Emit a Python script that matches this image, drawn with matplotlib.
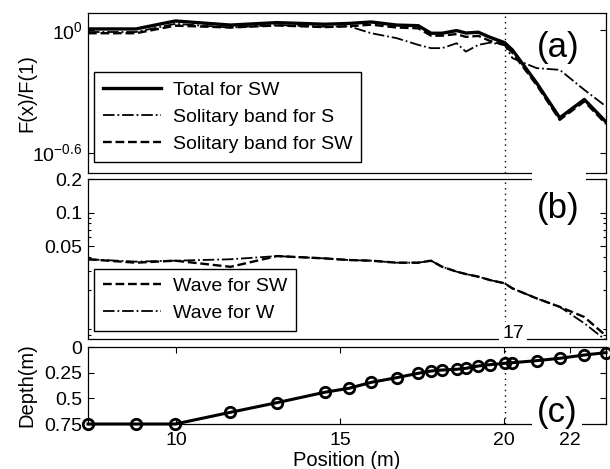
import numpy as np
import matplotlib
matplotlib.use("Agg")
import matplotlib.pyplot as plt
from matplotlib.ticker import NullFormatter, NullLocator, LogLocator

plt.rcParams["font.family"] = ["Liberation Sans", "DejaVu Sans"]
plt.rcParams["mathtext.default"] = "regular"

# gauge positions (m) and still-water depth (m)
position = [7.32, 8.78, 9.98, 11.66, 13.08, 14.53, 15.27, 15.95, 16.72, 17.38, 17.77,
            18.11, 18.55, 18.83, 19.21, 19.57, 20.01, 20.25, 20.99, 21.69, 22.44, 23.10]
depth = [0.75, 0.75, 0.75, 0.636, 0.542, 0.441, 0.402, 0.344, 0.299, 0.256, 0.234,
         0.224, 0.217, 0.208, 0.185, 0.172, 0.159, 0.153, 0.133, 0.110, 0.078, 0.055]

# panel (a): log10 of F(x)/F(1)
log_total_sw = [0.005, 0.005, 0.044, 0.024, 0.036, 0.028, 0.032, 0.039, 0.024, 0.021,
                -0.016, -0.016, -0.003, -0.015, -0.011, -0.036, -0.062, -0.098,
                -0.26, -0.43, -0.34, -0.45]
log_sol_s = [-0.010, -0.010, 0.030, 0.012, 0.024, 0.016, 0.018, -0.016, -0.040, -0.073,
             -0.089, -0.089, -0.065, -0.106, -0.073, -0.062, -0.073, -0.138,
             -0.187, -0.195, -0.293, -0.374]
log_sol_sw = [-0.016, -0.016, 0.021, 0.012, 0.022, 0.014, 0.018, 0.026, 0.012, 0.008,
              -0.028, -0.028, -0.020, -0.034, -0.029, -0.054, -0.073, -0.112,
              -0.27, -0.44, -0.35, -0.46]
total_sw = 10 ** np.array(log_total_sw)
sol_s = 10 ** np.array(log_sol_s)
sol_sw = 10 ** np.array(log_sol_sw)

# panel (b)
wave_sw = [0.0380, 0.0354, 0.0369, 0.0325, 0.0406, 0.0387, 0.0374, 0.0369, 0.0354,
           0.0354, 0.0369, 0.0325, 0.0294, 0.0280, 0.0265, 0.0247, 0.0231, 0.0208,
           0.0169, 0.0142, 0.0115, 0.0078]
wave_w = [0.0380, 0.0362, 0.0369, 0.0380, 0.0406, 0.0387, 0.0374, 0.0369, 0.0354,
          0.0354, 0.0369, 0.0325, 0.0294, 0.0280, 0.0265, 0.0247, 0.0231, 0.0208,
          0.0169, 0.0142, 0.0101, 0.0071]

x_gauge = 20.03
W, H = 610, 469


def box(l, t, r, b):
    return [l / W, 1 - b / H, (r - l) / W, (b - t) / H]


fig = plt.figure(figsize=(6.1, 4.69), dpi=100)
ax1 = fig.add_axes(box(88, 13, 606, 173))
ax2 = fig.add_axes(box(88, 179, 606, 339))
ax3 = fig.add_axes(box(88, 347, 606, 424))

xlim = (position[0], position[-1])
leg_kw = dict(loc="lower left", fontsize=14, fancybox=False, edgecolor="k",
              framealpha=1, handlelength=3.0, borderpad=0.45, labelspacing=0.5,
              handletextpad=0.6, borderaxespad=0)

# (a)
ax1.plot(position, total_sw, "k-", lw=2.4, label="Total for SW")
ax1.plot(position, sol_s, "k-.", lw=1.3, label="Solitary band for S")
ax1.plot(position, sol_sw, "k--", lw=1.7, label="Solitary band for SW")
ax1.set_yscale("log")
ax1.set_ylim(10 ** -0.7, 10 ** 0.083)
ax1.set_yticks([10 ** -0.6, 1.0])
ax1.set_yticklabels(["$10^{-0.6}$", "$10^{0}$"])
ax1.yaxis.set_minor_locator(NullLocator())
ax1.set_ylabel("F(x)/F(1)", fontsize=14.5)
ax1.legend(bbox_to_anchor=(6 / 518, 11 / 160), **leg_kw)

# (b)
ax2.plot(position, wave_sw, "k--", lw=1.7, label="Wave for SW")
ax2.plot(position, wave_w, "k-.", lw=1.3, label="Wave for W")
ax2.set_yscale("log")
ax2.set_ylim(0.0073, 0.2)
ax2.set_yticks([0.05, 0.1, 0.2])
ax2.set_yticklabels(["0.05", "0.1", "0.2"])
ax2.yaxis.set_minor_locator(LogLocator(subs=np.arange(2, 10)))
ax2.yaxis.set_minor_formatter(NullFormatter())
ax2.legend(bbox_to_anchor=(6 / 518, 8 / 160), **leg_kw)

# (c)
ax3.plot(position, depth, "k-", lw=2.2, marker="o", ms=7.5, mfc="none", mew=2,
         clip_on=False, zorder=5)
ax3.set_ylim(0.75, 0)
ax3.set_yticks([0, 0.25, 0.5, 0.75])
ax3.set_yticklabels(["0", "0.25", "0.5", "0.75"])
ax3.set_xticks([10, 15, 20, 22])
ax3.set_ylabel("Depth(m)", fontsize=14.5)
ax3.set_xlabel("Position (m)", fontsize=14.5, labelpad=1)

for ax in (ax1, ax2, ax3):
    ax.set_xlim(*xlim)
    ax.axvline(x_gauge, color="k", ls=(0, (1, 3)), lw=1, zorder=1)
    ax.tick_params(which="both", direction="in", top=True, right=True,
                   labelsize=14, length=4, width=0.8, pad=4)
    ax.tick_params(which="minor", length=2.5)
    for s in ax.spines.values():
        s.set_linewidth(0.9)
for ax in (ax1, ax2):
    ax.set_xticks([])
ax3.tick_params(axis="x", pad=6)
ax1.yaxis.set_label_coords(-0.10, 0.5)
ax3.yaxis.set_label_coords(-0.10, 0.5)

# panel labels with white backgrounds
fig.text(558 / W, 1 - 47 / H, "(a)", fontsize=25, ha="center", va="center")
fig.patches.append(plt.Rectangle((532 / W, 1 - 200 / H), 54 / W, 30 / H,
                                 transform=fig.transFigure, fc="white",
                                 ec="none", zorder=2))
fig.text(558 / W, 1 - 208 / H, "(b)", fontsize=25, ha="center", va="center",
         zorder=3)
fig.patches.append(plt.Rectangle((532 / W, 1 - 432 / H), 50 / W, 40 / H,
                                 transform=fig.transFigure, fc="white",
                                 ec="none", zorder=2))
fig.text(557 / W, 1 - 412 / H, "(c)", fontsize=25, ha="center", va="center",
         zorder=3)
fig.text(513 / W, 1 - 333 / H, "17", fontsize=14, ha="center", va="center",
         zorder=3, bbox=dict(fc="white", ec="none", pad=2))

fig.savefig("out.png", dpi=100)
